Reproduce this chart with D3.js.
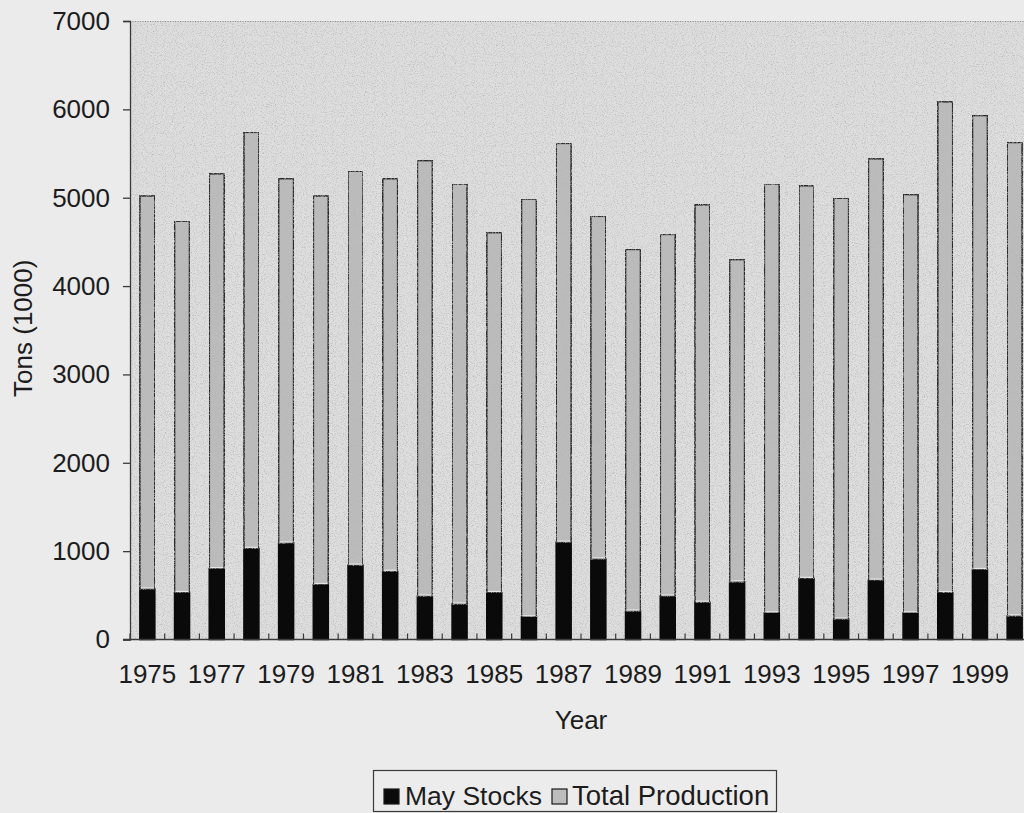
<!DOCTYPE html>
<html>
<head>
<meta charset="utf-8">
<script src="https://cdn.jsdelivr.net/npm/d3@7"></script>
<style>
  html, body { margin: 0; padding: 0; background: #ebebeb; }
  svg { display: block; }
  text { font-family: "Liberation Sans", Arial, sans-serif; fill: #1c1c1c; }
</style>
</head>
<body>
<svg id="chart" width="1024" height="813"></svg>
<script>
// Crop years
const years = ["1975","1976","1977","1978","1979","1980","1981","1982","1983","1984",
               "1985","1986","1987","1988","1989","1990","1991","1992","1993","1994",
               "1995","1996","1997","1998","1999","2000"];

// Stocks on hand in May, thousand tons
const mayStocks = [570, 530, 800, 1030, 1090, 620, 840, 770, 490, 400,
                   530, 255, 1100, 910, 320, 490, 420, 650, 300, 690,
                   230, 670, 300, 530, 790, 265];

// Total production for the year, thousand tons (stacked above the stocks)
const totalProduction = [4450, 4205, 4470, 4710, 4125, 4400, 4460, 4445, 4930, 4755,
                         4075, 4730, 4515, 3880, 4095, 4095, 4500, 3650, 4855, 4445,
                         4765, 4770, 4735, 5555, 5140, 5360];

const seriesNames = ["May Stocks", "Total Production"];
const yTicks = [0, 1000, 2000, 3000, 4000, 5000, 6000, 7000];
const yearLabels = ["1975","1977","1979","1981","1983","1985","1987","1989","1991","1993","1995","1997","1999"];

const svg = d3.select("#chart");
const W = 1024, H = 813;
const plot = { left: 130, right: 1032, top: 21, bottom: 639.5 };
const FS = "26px";

// Fine stipple used on the plot area and the production bars
const defs = svg.append("defs");
const grain = defs.append("filter").attr("id", "grain")
  .attr("x", 0).attr("y", 0).attr("width", 1).attr("height", 1);
grain.append("feTurbulence").attr("type", "fractalNoise")
  .attr("baseFrequency", 0.9).attr("numOctaves", 2).attr("seed", 3).attr("result", "noise");
grain.append("feColorMatrix").attr("in", "noise").attr("type", "matrix")
  .attr("values", "0 0 0 0 0.45  0 0 0 0 0.45  0 0 0 0 0.45  0 0 0 -2.2 1.15")
  .attr("result", "dots");
grain.append("feComposite").attr("in", "dots").attr("in2", "SourceGraphic")
  .attr("operator", "in").attr("result", "dotsIn");
const gm = grain.append("feMerge");
gm.append("feMergeNode").attr("in", "SourceGraphic");
gm.append("feMergeNode").attr("in", "dotsIn");

// Page background
svg.append("rect").attr("width", W).attr("height", H).attr("fill", "#ebebeb");

// Scales
const x = d3.scaleBand().domain(years).range([plot.left, plot.right]).padding(0);
const y = d3.scaleLinear().domain([0, 7000]).range([plot.bottom, plot.top]);
const barW = x.bandwidth() * 0.43;

// Plot area
svg.append("rect")
  .attr("x", plot.left).attr("y", plot.top)
  .attr("width", plot.right - plot.left).attr("height", plot.bottom - plot.top)
  .attr("fill", "#dedede").attr("filter", "url(#grain)");
svg.append("line")
  .attr("x1", plot.left).attr("x2", plot.right)
  .attr("y1", plot.top + 0.5).attr("y2", plot.top + 0.5)
  .attr("stroke", "#8a8a8a").attr("stroke-width", 1).attr("stroke-dasharray", "1,1.5");

// Stacked bars
const table = years.map((yr, i) => ({
  year: yr,
  "May Stocks": mayStocks[i],
  "Total Production": totalProduction[i]
}));
const stacked = d3.stack().keys(seriesNames)(table);
const fills = { "May Stocks": "#0a0a0a", "Total Production": "#bcbcbc" };

const layers = svg.append("g").selectAll("g").data(stacked).join("g");
layers.selectAll("rect")
  .data(s => s.map(d => ({ key: s.key, d })))
  .join("rect")
  .attr("x", o => x(o.d.data.year) + (x.bandwidth() - barW) / 2)
  .attr("y", o => y(o.d[1]))
  .attr("width", barW)
  .attr("height", o => y(o.d[0]) - y(o.d[1]))
  .attr("fill", o => fills[o.key])
  .attr("stroke", o => o.key === "May Stocks" ? "#0a0a0a" : "#2a2a2a")
  .attr("stroke-width", 1.6)
  .attr("filter", o => o.key === "Total Production" ? "url(#grain)" : null);

// Thin light seam between the two segments
svg.append("g").selectAll("line").data(stacked[0]).join("line")
  .attr("x1", d => x(d.data.year) + (x.bandwidth() - barW) / 2 + 1)
  .attr("x2", d => x(d.data.year) + (x.bandwidth() + barW) / 2 - 1)
  .attr("y1", d => y(d[1]) - 1.2).attr("y2", d => y(d[1]) - 1.2)
  .attr("stroke", "#e6e6e6").attr("stroke-width", 1.2);

// Y axis
const yAxis = svg.append("g")
  .attr("transform", `translate(${plot.left},0)`)
  .call(d3.axisLeft(y).tickValues(yTicks).tickSize(7).tickPadding(13).tickFormat(d3.format("d")));
yAxis.select(".domain").attr("stroke", "#3a3a3a").attr("stroke-width", 1.3);
yAxis.selectAll(".tick line").attr("stroke", "#3a3a3a").attr("stroke-width", 1.3);
yAxis.selectAll(".tick text")
  .style("font-size", FS).attr("fill", "#1c1c1c");

// X axis: labels on every other year
const xAxis = svg.append("g")
  .attr("transform", `translate(0,${plot.bottom})`)
  .call(d3.axisBottom(x).tickSize(0).tickPadding(0)
    .tickFormat(d => yearLabels.includes(d) ? d : ""));
xAxis.select(".domain").remove();
xAxis.selectAll(".tick text")
  .attr("y", 43.5).attr("dy", 0)
  .style("font-size", FS).attr("fill", "#1c1c1c");

// Axis line and inward category ticks at band edges
svg.append("line")
  .attr("x1", plot.left - 7).attr("x2", plot.right)
  .attr("y1", plot.bottom).attr("y2", plot.bottom)
  .attr("stroke", "#3a3a3a").attr("stroke-width", 1.5);
svg.append("g").selectAll("line").data(years).join("line")
  .attr("x1", d => x(d)).attr("x2", d => x(d))
  .attr("y1", plot.bottom).attr("y2", plot.bottom - 6)
  .attr("stroke", "#3a3a3a").attr("stroke-width", 1.2);

// Axis titles
svg.append("text")
  .attr("x", (plot.left + plot.right) / 2).attr("y", 729)
  .attr("text-anchor", "middle").style("font-size", FS)
  .text("Year");
svg.append("text")
  .attr("transform", `translate(32,${(plot.top + plot.bottom) / 2 - 2}) rotate(-90)`)
  .attr("text-anchor", "middle").style("font-size", FS)
  .text("Tons (1000)");

// Legend
const legend = svg.append("g");
legend.append("rect")
  .attr("x", 373.5).attr("y", 770.5).attr("width", 403).attr("height", 41)
  .attr("fill", "#ececec").attr("stroke", "#3a3a3a").attr("stroke-width", 1.2);
const legendItems = [
  { name: seriesNames[0], sx: 384, tx: 405 },
  { name: seriesNames[1], sx: 552, tx: 572 }
];
legendItems.forEach(it => {
  legend.append("rect")
    .attr("x", it.sx).attr("y", 789).attr("width", 15).attr("height", 15)
    .attr("fill", fills[it.name]).attr("stroke", "#1a1a1a").attr("stroke-width", 1.2);
  legend.append("text")
    .attr("x", it.tx).attr("y", 805)
    .style("font-size", it.name === "May Stocks" ? "26.5px" : "27.5px")
    .text(it.name);
});
</script>
</body>
</html>
